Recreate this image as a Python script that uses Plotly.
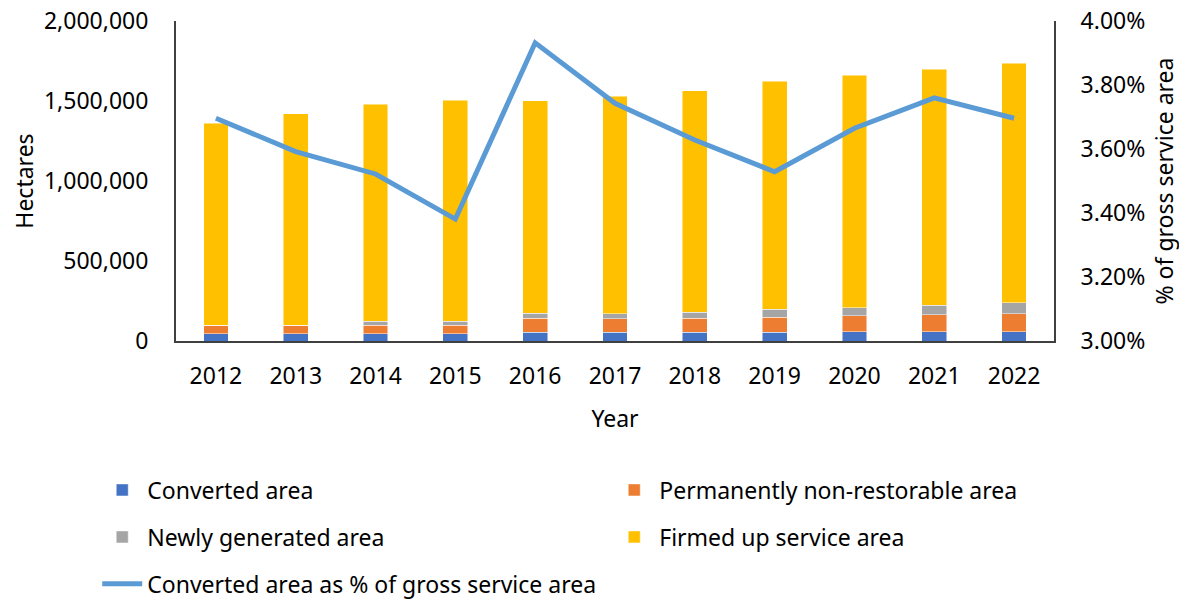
import plotly.graph_objects as go

years = ["2012", "2013", "2014", "2015", "2016", "2017", "2018", "2019", "2020", "2021", "2022"]
converted = [46000, 46000, 46000, 46000, 56000, 54000, 54000, 54000, 58000, 58000, 58000]
non_restorable = [54000, 54000, 52000, 52000, 87000, 85000, 87000, 94000, 100000, 106000, 112000]
newly_generated = [0, 0, 27000, 25000, 29000, 31000, 40000, 52000, 50000, 60000, 69000]
totals = [1362500, 1420600, 1479000, 1504000, 1502000, 1529000, 1564000, 1623000, 1662500, 1698000, 1737500]
firmed_up = [t - a - b - c for t, a, b, c in zip(totals, converted, non_restorable, newly_generated)]
pct_gross = [3.696, 3.592, 3.522, 3.381, 3.932, 3.743, 3.628, 3.529, 3.665, 3.760, 3.696]

FONT = "Noto Sans"
FS = 23
fig = go.Figure()
bar_line = dict(color="rgba(255,255,255,0.6)", width=0.8)
fig.add_trace(go.Bar(x=years, y=converted, name="Converted area", marker=dict(color="#4472C4", line=bar_line), legend="legend"))
fig.add_trace(go.Bar(x=years, y=non_restorable, name="Permanently non-restorable area", marker=dict(color="#ED7D31", line=bar_line), legend="legend"))
fig.add_trace(go.Bar(x=years, y=newly_generated, name="Newly generated area", marker=dict(color="#A5A5A5", line=bar_line), legend="legend2"))
fig.add_trace(go.Bar(x=years, y=firmed_up, name="Firmed up service area", marker=dict(color="#FFC000", line=bar_line), legend="legend2"))
fig.add_trace(go.Scatter(x=years, y=[p / 100 for p in pct_gross], name="Converted area as % of gross service area",
                         mode="lines", line=dict(color="#5B9BD5", width=5), yaxis="y2", legend="legend3"))

leg_common = dict(orientation="h", xanchor="left", yanchor="middle", entrywidth=457, entrywidthmode="pixels",
                  traceorder="normal",
                  font=dict(family=FONT, size=FS, color="#000000"), bgcolor="rgba(0,0,0,0)", itemwidth=40)
fig.update_layout(
    width=1179, height=593,
    margin=dict(l=168, r=133, t=13, b=260, autoexpand=False),
    barmode="stack", bargap=0.69,
    plot_bgcolor="white", paper_bgcolor="white",
    font=dict(family=FONT, size=FS, color="#000000"),
    xaxis=dict(type="category", showline=True, linecolor="#404040", linewidth=2, ticks="", automargin=False,
               ticklabelstandoff=13, title=dict(text="Year", standoff=21, font=dict(size=FS))),
    yaxis=dict(range=[0, 2000000], tickvals=[0, 500000, 1000000, 1500000, 2000000], automargin=False,
               ticklabeloverflow="allow",
               tickformat=",.0f", showgrid=False, zeroline=False, showline=True, linecolor="#404040", linewidth=2,
               ticks="", ticklabelstandoff=21, title=dict(text="Hectares", standoff=8, font=dict(size=FS))),
    yaxis2=dict(range=[0.03, 0.04], tickvals=[0.03, 0.032, 0.034, 0.036, 0.038, 0.04], tickformat=".2%",
                overlaying="y", side="right", showgrid=False, zeroline=False, showline=True, linecolor="#404040",
                linewidth=2, ticks="", ticklabelstandoff=20, automargin=False, ticklabeloverflow="allow",
                title=dict(text="% of gross service area", standoff=13, font=dict(size=FS))),
    legend=dict(x=-0.0897, y=-0.4656, **leg_common),
    legend2=dict(x=-0.0897, y=-0.6125, **leg_common),
    legend3=dict(x=-0.0897, y=-0.759, **leg_common),
)
fig.write_html("out.html")
